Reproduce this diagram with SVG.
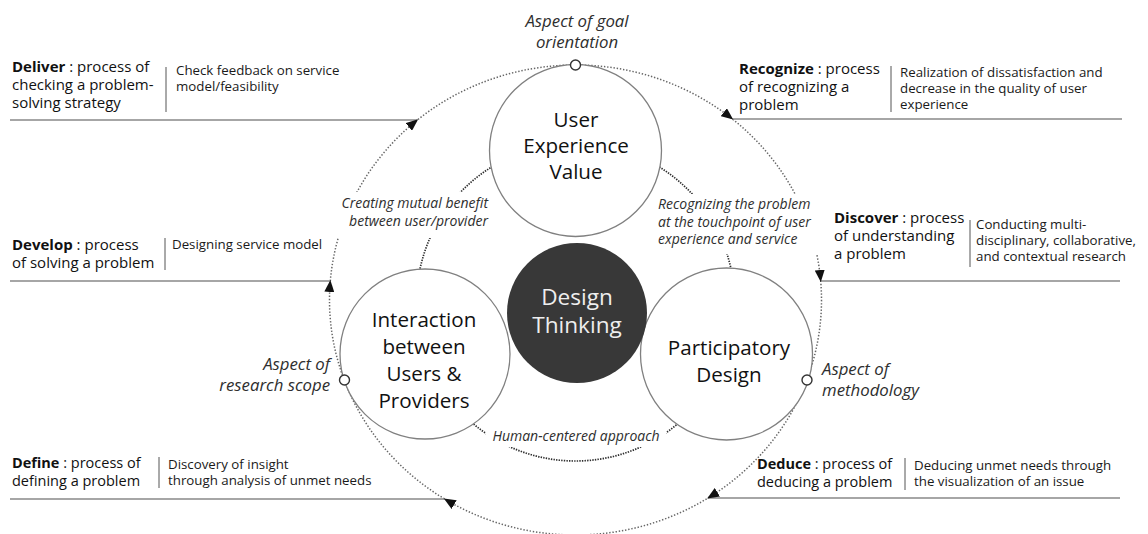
<svg xmlns="http://www.w3.org/2000/svg" width="1148" height="534" viewBox="0 0 1148 534">
<defs>
<style>
text{font-family:'Open Sans','Noto Sans','Liberation Sans',sans-serif;fill:#111}
.proc{font-size:15px}
.proc2{font-size:14.5px}
tspan.b{font-weight:bold}
.desc{font-size:13.3px;fill:#1a1a1a}
.it{font-style:italic;fill:#2e2e2e}
.lbl{font-size:14px}
.asp{font-size:16.8px}
.node{font-size:20.6px;text-anchor:middle;fill:#111}
.hline{stroke:#888;stroke-width:1.7;fill:none}
.sep{stroke:#555;stroke-width:1;fill:none}
.ring{fill:#fff;stroke:#808080;stroke-width:1.3}
.outer{fill:none;stroke:#666;stroke-width:1.5;stroke-dasharray:1.4 1.8}
.inner{fill:none;stroke:#2e2e2e;stroke-width:1.7;stroke-dasharray:1.4 1.2}
.dot{fill:#fff;stroke:#333;stroke-width:1.4}
.mask{fill:#fff;stroke:none}
</style>
<marker id="arr" viewBox="0 0 12 10" refX="11" refY="5" markerWidth="12" markerHeight="10" markerUnits="userSpaceOnUse" orient="auto">
<path d="M0,0 L12,5 L0,10 z" fill="#111"/>
</marker>
</defs>
<rect width="1148" height="534" fill="#fff"/>

<g id="connectors">
<ellipse class="outer" cx="575.5" cy="300" rx="246" ry="235"/>
<circle class="inner" cx="575.5" cy="302" r="159"/>
<line class="hline" x1="10" y1="120" x2="417" y2="120"/>
<line class="hline" x1="732" y1="119" x2="1122" y2="119"/>
<line class="hline" x1="10" y1="281" x2="330" y2="281"/>
<line class="hline" x1="821" y1="281" x2="1120" y2="281"/>
<line class="hline" x1="10" y1="499" x2="445" y2="499"/>
<line class="hline" x1="708" y1="498" x2="1120" y2="498"/>
<path d="M411.2,125 L417.4,120" stroke="none" marker-end="url(#arr)"/>
<path d="M726.1,114 L732.4,119" stroke="none" marker-end="url(#arr)"/>
<path d="M820,273 L820.7,281" stroke="none" marker-end="url(#arr)"/>
<path d="M714.8,493.8 L708,498" stroke="none" marker-end="url(#arr)"/>
<path d="M451.6,503.1 L444.7,499" stroke="none" marker-end="url(#arr)"/>
<path d="M329.6,289 L330.3,281" stroke="none" marker-end="url(#arr)"/>
</g>

<g id="uxv">
<circle class="ring" cx="575.5" cy="150.5" r="86"/>
<text class="node" x="576" y="127">User</text>
<text class="node" x="576" y="153">Experience</text>
<text class="node" x="576" y="179">Value</text>
</g>

<g id="interaction">
<circle class="ring" cx="425" cy="354" r="85"/>
<text class="node" x="424" y="327">Interaction</text>
<text class="node" x="424" y="354">between</text>
<text class="node" x="424" y="381">Users &amp;</text>
<text class="node" x="424" y="408">Providers</text>
</g>

<g id="participatory">
<circle class="ring" cx="726.5" cy="354" r="86"/>
<text class="node" x="729" y="355">Participatory</text>
<text class="node" x="729" y="382">Design</text>
</g>

<g id="design-thinking">
<circle cx="577" cy="313" r="70" fill="#383838"/>
<text x="577" y="305" style="font-size:22.6px;text-anchor:middle;fill:#eeeeee">Design</text>
<text x="577" y="333" style="font-size:22.6px;text-anchor:middle;fill:#eeeeee">Thinking</text>
</g>

<g id="aspect-dots">
<circle class="dot" cx="575.5" cy="65" r="5"/>
<circle class="dot" cx="344.5" cy="380" r="5"/>
<circle class="dot" cx="807" cy="380" r="5"/>
</g>

<g id="label-goal">
<text class="it asp" x="577" y="27" text-anchor="middle">Aspect of goal</text>
<text class="it asp" x="577" y="48" text-anchor="middle">orientation</text>
</g>
<g id="label-scope">
<text class="it asp" x="330" y="370" text-anchor="end">Aspect of</text>
<text class="it asp" x="330" y="391" text-anchor="end">research scope</text>
</g>
<g id="label-method">
<text class="it asp" x="822" y="375">Aspect of</text>
<text class="it asp" x="822" y="396">methodology</text>
</g>

<g id="label-mutual">
<rect class="mask" x="333" y="192" width="159" height="46"/>
<text class="it lbl" x="488" y="208" text-anchor="end">Creating mutual benefit</text>
<text class="it lbl" x="488" y="226" text-anchor="end">between user/provider</text>
</g>
<g id="label-touchpoint">
<rect class="mask" x="652" y="194" width="172" height="60"/>
<text class="it lbl" x="658" y="209">Recognizing the problem</text>
<text class="it lbl" x="658" y="227">at the touchpoint of user</text>
<text class="it lbl" x="658" y="244">experience and service</text>
</g>
<g id="label-human">
<rect class="mask" x="486" y="426" width="180" height="21"/>
<text class="it lbl" x="576" y="441" text-anchor="middle">Human-centered approach</text>
</g>

<g id="deliver">
<text class="proc" x="12" y="72"><tspan class="b">Deliver</tspan> : process of</text>
<text class="proc" x="12" y="90">checking a problem-</text>
<text class="proc" x="12" y="108">solving strategy</text>
<line class="sep" x1="166" y1="67" x2="166" y2="112"/>
<text class="desc" x="176" y="75">Check feedback on service</text>
<text class="desc" x="176" y="91">model/feasibility</text>
</g>

<g id="recognize">
<text class="proc" x="739" y="74"><tspan class="b">Recognize</tspan> : process</text>
<text class="proc" x="739" y="92">of recognizing  a</text>
<text class="proc" x="739" y="110">problem</text>
<line class="sep" x1="891" y1="66" x2="891" y2="112"/>
<text class="desc" x="900" y="77">Realization of dissatisfaction and</text>
<text class="desc" x="900" y="93">decrease  in the quality of user</text>
<text class="desc" x="900" y="109">experience</text>
</g>

<g id="develop">
<text class="proc" x="12" y="250"><tspan class="b">Develop</tspan> : process</text>
<text class="proc" x="12" y="268">of solving a problem</text>
<line class="sep" x1="165" y1="238" x2="165" y2="270"/>
<text class="desc" x="172" y="249">Designing service  model</text>
</g>

<g id="discover">
<text class="proc" x="834" y="223"><tspan class="b">Discover</tspan> : process</text>
<text class="proc" x="834" y="241">of understanding</text>
<text class="proc" x="834" y="259">a problem</text>
<line class="sep" x1="970" y1="220" x2="970" y2="267"/>
<text class="desc" x="976" y="229">Conducting multi-</text>
<text class="desc" x="976" y="245">disciplinary, collaborative,</text>
<text class="desc" x="976" y="261">and contextual research</text>
</g>

<g id="define">
<text class="proc2" x="12" y="468"><tspan class="b">Define</tspan> : process of</text>
<text class="proc2" x="12" y="485.5">defining a problem</text>
<line class="sep" x1="159" y1="457" x2="159" y2="488"/>
<text class="desc" x="168" y="469">Discovery of insight</text>
<text class="desc" x="168" y="485">through analysis of unmet needs</text>
</g>

<g id="deduce">
<text class="proc2" x="757" y="469"><tspan class="b">Deduce</tspan> : process of</text>
<text class="proc2" x="757" y="486.5">deducing a problem</text>
<line class="sep" x1="905" y1="458" x2="905" y2="490"/>
<text class="desc" x="914" y="470">Deducing unmet needs through</text>
<text class="desc" x="914" y="486">the  visualization of an issue</text>
</g>
</svg>
